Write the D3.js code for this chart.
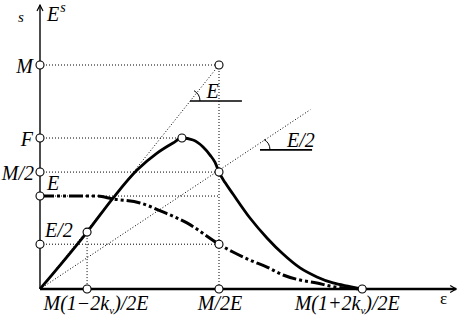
<!DOCTYPE html>
<meta charset="utf-8">
<script src="https://d3js.org/d3.v7.min.js"></script>
<style>
body { margin: 0; background: #fff; }
#chart text { font-family: "Liberation Serif", "DejaVu Serif", serif; font-style: italic; fill: #000; }
</style>
<div id="chart"></div>
<script>
// values (eps in units of M/2E, s in units of M)
var solidEps = [0, 0.263, 0.408, 0.542, 0.654, 0.743, 0.793, 0.855, 0.911, 0.95, 0.978, 1.0, 1.034, 1.078, 1.173, 1.268, 1.358, 1.453, 1.547, 1.637, 1.732, 1.80];
var solidSig = [0, 0.254, 0.406, 0.531, 0.607, 0.652, 0.674, 0.665, 0.634, 0.598, 0.565, 0.522, 0.475, 0.424, 0.317, 0.228, 0.156, 0.094, 0.054, 0.027, 0.011, 0];
var dashEps = [0, 0.318, 0.408, 0.559, 0.687, 0.821, 1.0, 1.078, 1.173, 1.268, 1.358, 1.453, 1.547, 1.62, 1.80];
var dashSig = [0.415, 0.415, 0.402, 0.384, 0.344, 0.295, 0.2, 0.165, 0.129, 0.098, 0.0625, 0.04, 0.027, 0.013, 0];

var yTickLabels = ["M", "F", "M/2", "E", "E/2"];
var yTickValues = [1, 0.674, 0.522, 0.415, 0.2];
var xTickLabels = [["M(1\u22122k", "v", ")/2E"], ["M/2E", "", ""], ["M(1+2k", "v", ")/2E"]];
var xTickValues = [0.263, 1, 1.80];

var slopeE = 1, slopeHalf = 0.53;

var width = 458, height = 318;
var svg = d3.select("#chart").append("svg")
    .attr("width", width)
    .attr("height", height);

var x = d3.scaleLinear().domain([0, 1]).range([40, 219]);
var y = d3.scaleLinear().domain([0, 1]).range([289, 65]);
var xEnd = 2.325, yEnd = 1.268;

function dotted(x1, y1, x2, y2) {
  svg.append("line")
    .attr("x1", x(x1)).attr("y1", y(y1))
    .attr("x2", x(x2)).attr("y2", y(y2))
    .attr("stroke", "#000").attr("stroke-width", 1)
    .attr("stroke-dasharray", "1,2");
}

var peak = d3.maxIndex(solidSig);

// dotted guides
yTickValues.forEach(function(v, i) {
  var to = i == 1 ? solidEps[peak] : 1;
  dotted(0, v, to, v);
});
dotted(1, 1, 1, 0);
dotted(xTickValues[0], solidSig[1], xTickValues[0], 0);
dotted(0, 0, 1, slopeE);
dotted(0, 0, 1.51, 1.51 * slopeHalf);

// axes
svg.append("line")
  .attr("x1", x(0)).attr("y1", y(0)).attr("x2", x(0)).attr("y2", y(yEnd))
  .attr("stroke", "#000").attr("stroke-width", 1.4);
svg.append("line")
  .attr("x1", x(0)).attr("y1", y(0)).attr("x2", x(xEnd)).attr("y2", y(0))
  .attr("stroke", "#000").attr("stroke-width", 2.6);
svg.append("path")
  .attr("d", "M" + (x(0) - 3) + "," + (y(yEnd) + 6) + "L" + x(0) + "," + y(yEnd) + "L" + (x(0) + 3) + "," + (y(yEnd) + 6))
  .attr("fill", "none").attr("stroke", "#000").attr("stroke-width", 1.2);
svg.append("path")
  .attr("d", "M" + (x(xEnd) - 6) + "," + (y(0) - 3.5) + "L" + x(xEnd) + "," + y(0) + "L" + (x(xEnd) - 6) + "," + (y(0) + 3.5))
  .attr("fill", "none").attr("stroke", "#000").attr("stroke-width", 1.2);

// curves
var line = d3.line()
  .x(function(d) { return x(d[0]); })
  .y(function(d) { return y(d[1]); })
  .curve(d3.curveMonotoneX);

svg.append("path")
  .datum(d3.zip(dashEps, dashSig))
  .attr("d", line)
  .attr("fill", "none").attr("stroke", "#000").attr("stroke-width", 3)
  .attr("stroke-dasharray", "14,3,3,3,3,3");

svg.append("path")
  .datum(d3.zip(solidEps, solidSig))
  .attr("d", line)
  .attr("fill", "none").attr("stroke", "#000").attr("stroke-width", 2.8);

// marker circles
var marks = yTickValues.map(function(v) { return [0, v]; })
  .concat([[1, 1], [solidEps[peak], solidSig[peak]], [1, yTickValues[2]], [1, yTickValues[4]],
           [xTickValues[0], solidSig[1]]])
  .concat(xTickValues.map(function(v) { return [v, 0]; }));

svg.selectAll("circle.mark")
  .data(marks)
  .enter().append("circle")
  .attr("class", "mark")
  .attr("cx", function(d) { return x(d[0]); })
  .attr("cy", function(d) { return y(d[1]); })
  .attr("r", 4)
  .attr("fill", "#fff").attr("stroke", "#000").attr("stroke-width", 1.1);

// y labels
var yLabelPos = [[-7, 8, "end"], [-7, 8, "end"], [-6, 8, "end"], [7, -6, "start"], [5, -7, "start"]];
yTickLabels.forEach(function(t, i) {
  svg.append("text")
    .attr("x", x(0) + yLabelPos[i][0])
    .attr("y", y(yTickValues[i]) + yLabelPos[i][1])
    .attr("text-anchor", yLabelPos[i][2])
    .attr("font-size", 20)
    .text(t);
});

// x labels
var xLabelShift = [9, 1, -15];
xTickLabels.forEach(function(t, i) {
  var txt = svg.append("text")
    .attr("x", x(xTickValues[i]) + xLabelShift[i])
    .attr("y", y(0) + 21)
    .attr("text-anchor", "middle")
    .attr("font-size", 20);
  txt.append("tspan").text(t[0]);
  if (t[1]) {
    txt.append("tspan").attr("font-size", 11).attr("dy", 4).text(t[1]);
    txt.append("tspan").attr("dy", -4).text(t[2]);
  }
});

// axis titles
svg.append("text").attr("x", 18).attr("y", 22).attr("font-size", 15).text("s");
var es = svg.append("text").attr("x", 47).attr("y", 21).attr("font-size", 20);
es.append("tspan").text("E");
es.append("tspan").attr("font-size", 14).attr("dy", -9).attr("dx", 1).text("s");
svg.append("text").attr("x", 440).attr("y", 304).attr("font-size", 17)
  .style("font-style", "normal").text("\u03b5");

// slope labels
function slopeLabel(ly, x1, x2, label, tx) {
  var yy = y(ly);
  svg.append("line")
    .attr("x1", x(x1)).attr("y1", yy).attr("x2", x(x2)).attr("y2", yy)
    .attr("stroke", "#000").attr("stroke-width", 1.6);
  var cx = x(x1) - 2, r = 12;
  svg.append("path")
    .attr("d", "M" + (cx + r) + "," + yy + "A" + r + "," + r + " 0 0,0 " + (cx + r * Math.cos(Math.PI / 3)) + "," + (yy - r * Math.sin(Math.PI / 3)))
    .attr("fill", "none").attr("stroke", "#000").attr("stroke-width", 1);
  svg.append("text").attr("x", x(tx)).attr("y", yy - 3).attr("font-size", 20).text(label);
}
slopeLabel(0.839, 0.838, 1.128, "E", 0.93);
slopeLabel(0.621, 1.229, 1.52, "E/2", 1.38);
</script>
